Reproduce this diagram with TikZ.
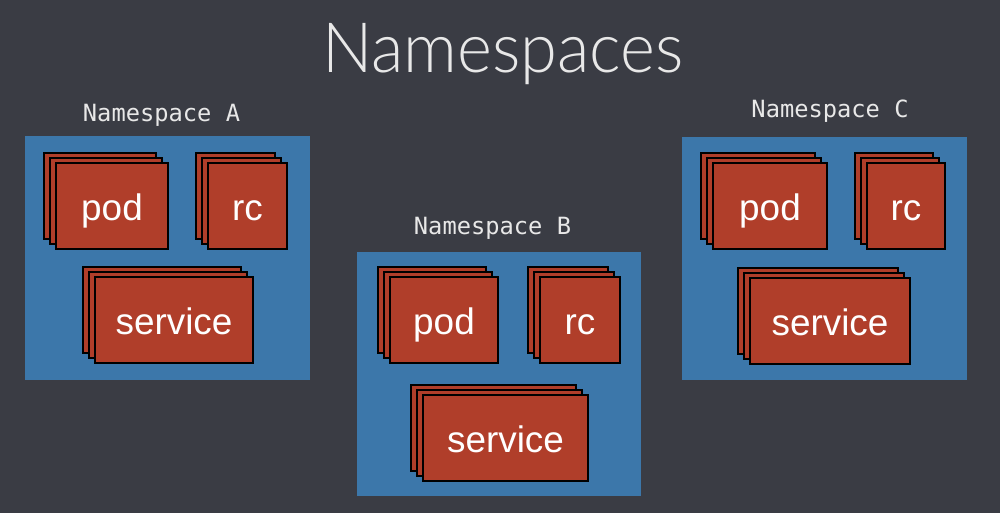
\documentclass[tikz,border=0pt]{standalone}
\usepackage{fontspec}
\setmainfont{Liberation Sans}
\newfontfamily\nsmono{DejaVu Sans Mono}
\newfontfamily\thinfont{Lato Light}
\usetikzlibrary{shadows}
\definecolor{slate}{RGB}{58,60,68}
\definecolor{nsblue}{RGB}{60,119,170}
\definecolor{objred}{RGB}{176,62,42}
\definecolor{txtgray}{RGB}{232,232,232}
\tikzset{
  nsbox/.style={fill=nsblue, inner sep=0pt, minimum width=5.7cm, minimum height=4.88cm},
  nslabel/.style={font=\nsmono\fontsize{13.5}{16}\selectfont, text=txtgray, anchor=base},
  obj/.style={fill=objred, draw=black, line width=1.1pt, inner sep=0pt,
    minimum height=1.72cm, text height=21pt, text depth=4.4pt,
    text=white, font=\fontsize{21}{24}\selectfont,
    double copy shadow={shadow xshift=-3.4pt, shadow yshift=2.8pt}},
}
\begin{document}
\begin{tikzpicture}[x=0.02cm,y=-0.02cm]
  \fill[slate] (0,0) rectangle (1000,513);
  \useasboundingbox (0,0) rectangle (1000,513);
  \node[anchor=base, text=txtgray, font=\thinfont\fontsize{38}{42}\selectfont] (title) at (503,73)
    {\scalebox{1}[1.04]{Namespaces}};
  % namespace A
  \node[nsbox] (nsA) at (167.5,258) {};
  \node[nslabel] (labA) at (161.5,122) {Namespace A};
  \node[obj, minimum width=2.24cm] (podA) at (112,206) {pod};
  \node[obj, minimum width=1.58cm] (rcA) at (247.5,206) {rc};
  \node[obj, minimum width=3.16cm] (svcA) at (174,320) {service};
  % namespace B
  \node[nsbox] (nsB) at (499,374) {};
  \node[nslabel] (labB) at (492.5,235) {Namespace B};
  \node[obj, minimum width=2.16cm] (podB) at (444,320) {pod};
  \node[obj, minimum width=1.6cm] (rcB) at (580,320) {rc};
  \node[obj, minimum width=3.3cm] (svcB) at (505.5,438) {service};
  % namespace C
  \node[nsbox] (nsC) at (824.5,258.5) {};
  \node[nslabel] (labC) at (830,118) {Namespace C};
  \node[obj, minimum width=2.28cm] (podC) at (770,206) {pod};
  \node[obj, minimum width=1.56cm] (rcC) at (906,206) {rc};
  \node[obj, minimum width=3.2cm] (svcC) at (830,321) {service};
\end{tikzpicture}
\end{document}
